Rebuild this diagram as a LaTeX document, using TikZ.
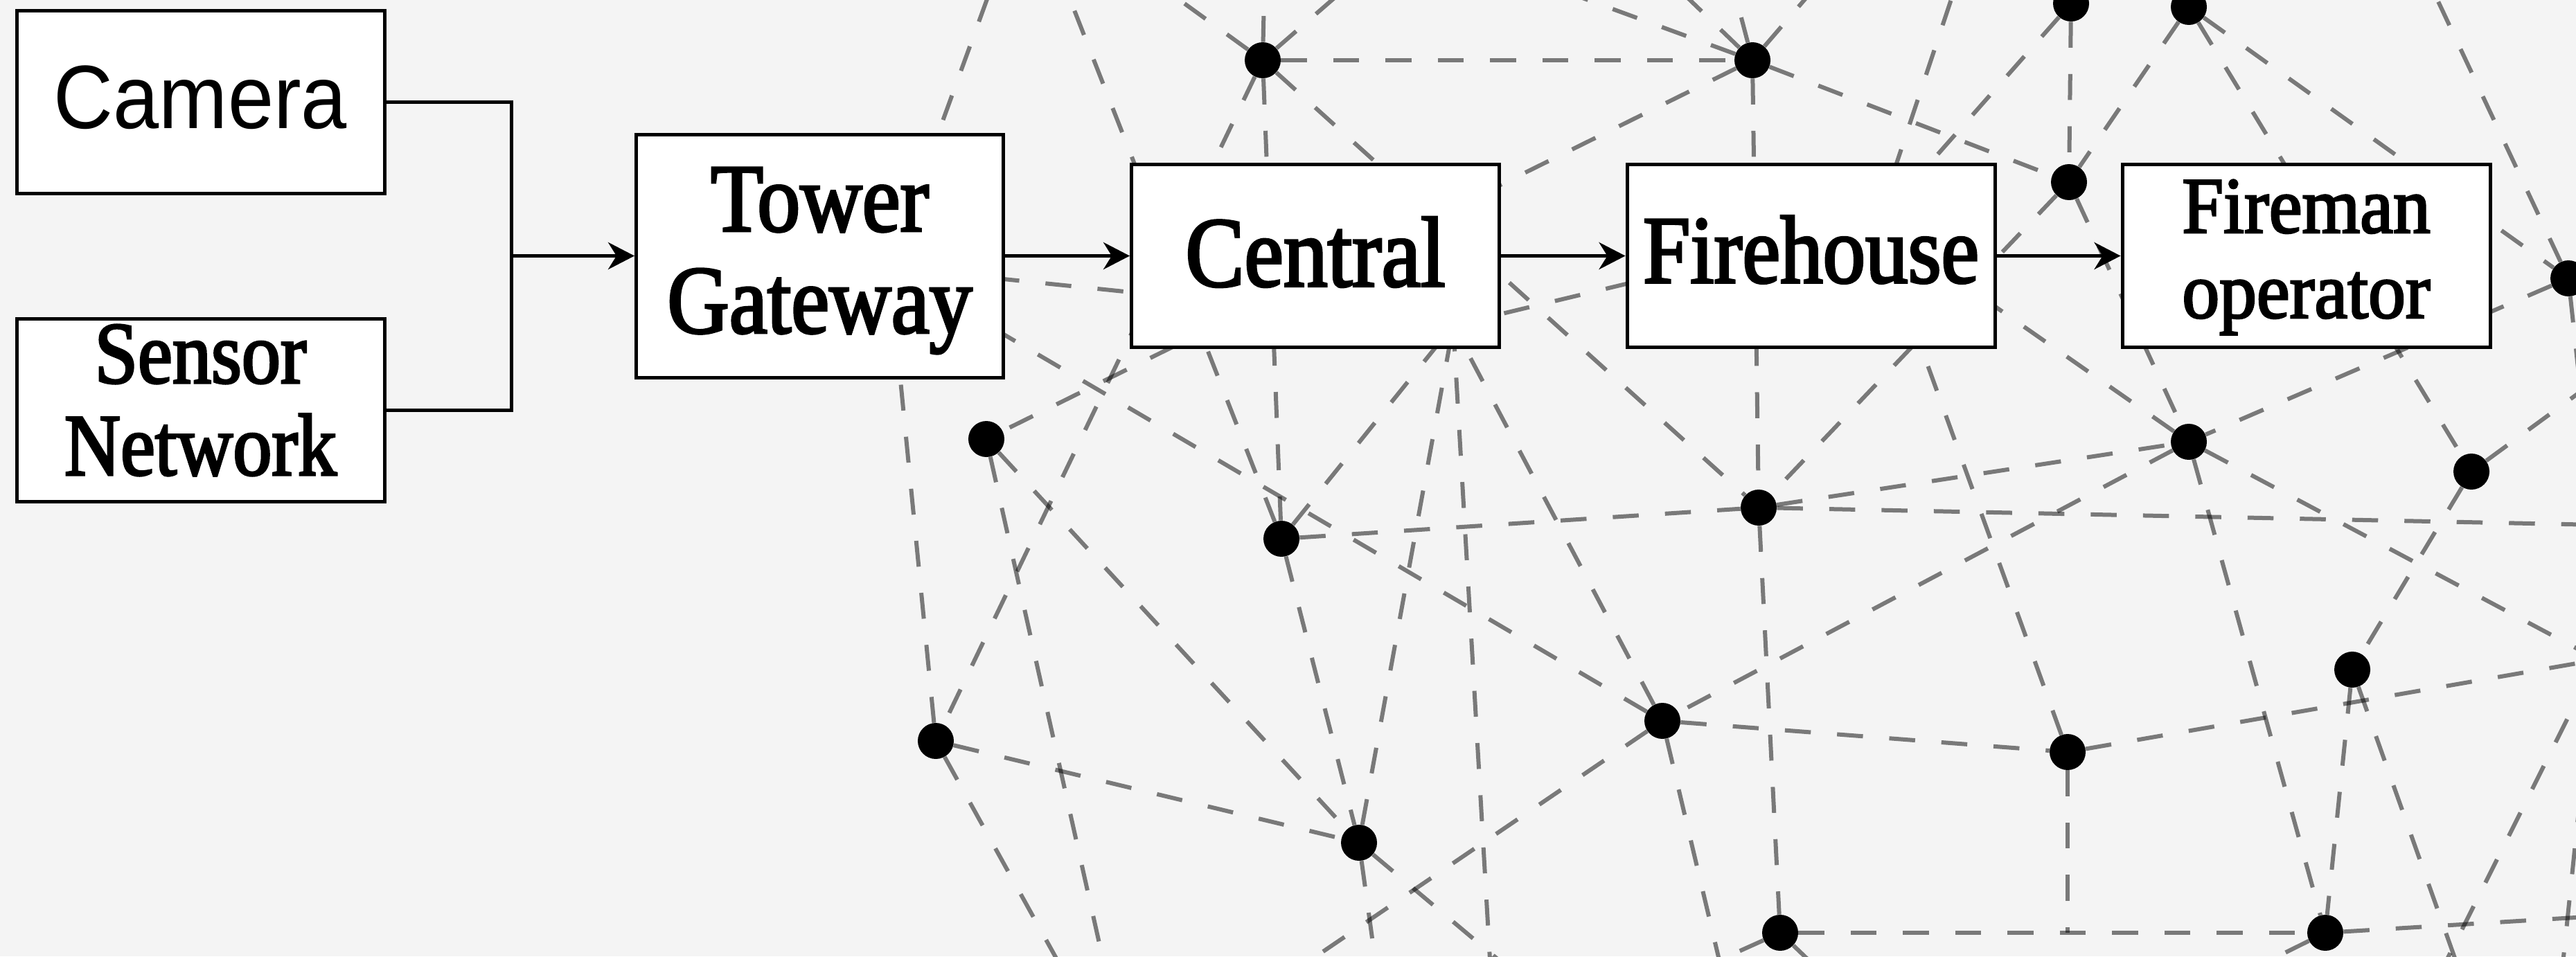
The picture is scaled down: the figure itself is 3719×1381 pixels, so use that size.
\documentclass[tikz,border=0pt]{standalone}
\usepackage{fontspec}
\usetikzlibrary{arrows.meta}
\newfontfamily\labelserif{Liberation Serif}[FakeStretch=0.885,FakeBold=2.5]
\newfontfamily\labelserifwide{Liberation Serif}[FakeStretch=0.935,FakeBold=2.5]
\newfontfamily\labelsans{Liberation Sans}[FakeStretch=0.915]
\definecolor{paper}{HTML}{F4F4F4}

\begin{document}
\begin{tikzpicture}[x=0.5pt,y=-0.5pt,
  dot/.style={circle,fill=black,inner sep=0pt,minimum size=26pt},
  link/.style={draw=black,draw opacity=0.5,line width=3pt,dash pattern=on 18.75pt off 19pt},
  block/.style={draw=black,fill=white,line width=2.5pt,inner sep=0pt,
    minimum width=265.5pt,minimum height=132pt},
  caption/.style={inner sep=0pt,align=center},
  flow/.style={draw=black,line width=2.5pt},
  flowarrow/.style={flow,-{Stealth[length=19pt,width=19.5pt,inset=6pt]}}]

% canvas
\useasboundingbox (0,0) rectangle (3719,1381);
\fill[paper] (0,0) rectangle (3719,1381);

% ---------------- background mesh network ----------------
\begin{scope}
\clip (0,0) rectangle (3719,1381);

% visible mesh nodes
\node[dot] (a) at (1823,87) {};
\node[dot] (b) at (2530,87) {};
\node[dot] (c) at (2990,5) {};
\node[dot] (d) at (3160,10) {};
\node[dot] (e) at (2987,263) {};
\node[dot] (f) at (3708,402) {};
\node[dot] (g) at (1424,634) {};
\node[dot] (h) at (1850,778) {};
\node[dot] (i) at (2539,733) {};
\node[dot] (j) at (3160,638) {};
\node[dot] (k) at (3568,681) {};
\node[dot] (l) at (3396,967) {};
\node[dot] (m) at (2400,1041) {};
\node[dot] (n) at (2985,1086) {};
\node[dot] (o) at (1351,1070) {};
\node[dot] (p) at (1962,1217) {};
\node[dot] (q) at (2570,1347) {};
\node[dot] (r) at (3357,1347) {};

% mesh nodes covered by the blocks
\coordinate (t1) at (1284,386);
\coordinate (x1) at (2098,470);
\coordinate (y1) at (2709,323);

% links leaving the canvas
\coordinate (t1up)  at (1461,-100);
\coordinate (hup)   at (1506,-100);
\coordinate (aupl)  at (1565,-100);
\coordinate (aup)   at (1827,-100);
\coordinate (aupr)  at (2038,-100);
\coordinate (bupl)  at (2020,-100);
\coordinate (bupm)  at (2336,-100);
\coordinate (bup)   at (2481,-100);
\coordinate (bupr)  at (2691,-100);
\coordinate (y1up)  at (2850,-100);
\coordinate (fup)   at (3472,-100);
\coordinate (fdown) at (3740,700);
\coordinate (iright) at (3800,759);
\coordinate (kright) at (3800,511);
\coordinate (jright) at (3800,979);
\coordinate (nright) at (3800,944);
\coordinate (rright) at (3800,1320);
\coordinate (sideA1) at (3740,971);
\coordinate (sideA2) at (3520,1411);
\coordinate (sideB1) at (3725,1150);
\coordinate (sideB2) at (3697,1420);
\coordinate (ldown)  at (3557,1420);
\coordinate (rdown)  at (3250,1400);
\coordinate (qdownl) at (2470,1392);
\coordinate (qdownr) at (2620,1395);
\coordinate (mdown)  at (2490,1420);
\coordinate (mdownl) at (1850,1415);
\coordinate (pdownr) at (2180,1400);
\coordinate (pdown)  at (1990,1420);
\coordinate (odown)  at (1545,1420);
\coordinate (gdown)  at (1600,1420);
\coordinate (x1down) at (2153,1420);

\foreach \u/\v in {a/b,a/o,a/h,a/i,
                   b/g,b/i,b/e,
                   c/e,c/y1,
                   d/e,d/f,d/k,
                   e/i,e/j,
                   f/j,
                   g/p,
                   h/i,h/p,h/x1,
                   i/j,i/q,
                   j/m,j/r,j/y1,
                   k/l,l/r,
                   m/n,m/t1,m/x1,
                   n/y1,
                   o/p,o/t1,
                   p/x1,q/r,
                   t1/x1,x1/y1,
                   t1/t1up,h/hup,a/aupl,a/aup,a/aupr,
                   b/bupl,b/bupm,b/bup,b/bupr,
                   y1/y1up,f/fup,f/fdown,
                   i/iright,k/kright,j/jright,n/nright,r/rright,
                   sideA1/sideA2,sideB1/sideB2,
                   l/ldown,r/rdown,q/qdownl,q/qdownr,
                   m/mdown,m/mdownl,p/pdownr,p/pdown,
                   o/odown,g/gdown,x1/x1down}
  \draw[link] (\u) -- (\v);
\draw[link] (n) -- (n |- q);
\end{scope}

% ---------------- processing chain ----------------
\node[block] (camera) at (289.5,147) {};
\node[caption,font={\labelsans\fontsize{65pt}{68pt}\selectfont}]
  (cameratext) at ([yshift=3.25pt]camera.center) {Camera};

\node[block] (sensor) at (289.5,592) {};
\node[caption,font={\labelserif\fontsize{63.5pt}{66.5pt}\selectfont}]
  (sensortext) at ([yshift=7pt]sensor.center) {Sensor\\Network};

\node[block,minimum width=265pt,minimum height=175.5pt] (tower) at (1183.5,369.5) {};
\node[caption,font={\labelserif\fontsize{70pt}{73.5pt}\selectfont}]
  (towertext) at ([yshift=-3.5pt]tower.center) {Tower\\Gateway};

\node[block] (central) at (1899,369.5) {};
\node[caption,font={\labelserif\fontsize{72pt}{75pt}\selectfont}]
  (centraltext) at ([yshift=2.75pt]central.center) {Central};

\node[block] (firehouse) at (2614.5,369.5) {};
\node[caption,font={\labelserif\fontsize{69.5pt}{72pt}\selectfont}]
  (firehousetext) at ([yshift=4.5pt]firehouse.center) {Firehouse};

\node[block] (fireman) at (3329.5,369.5) {};
\node[caption,font={\labelserifwide\fontsize{57.5pt}{61.5pt}\selectfont}]
  (firemantext) at ([yshift=-1pt]fireman.center) {Fireman\\operator};

% connectors
\coordinate (join) at (738,369.5);
\draw[flow] (camera.east) -| (join) |- (sensor.east);
\draw[flowarrow] (join) -- (tower.west);
\draw[flowarrow] (tower.east) -- (central.west);
\draw[flowarrow] (central.east) -- (firehouse.west);
\draw[flowarrow] (firehouse.east) -- (fireman.west);
\end{tikzpicture}
\end{document}
